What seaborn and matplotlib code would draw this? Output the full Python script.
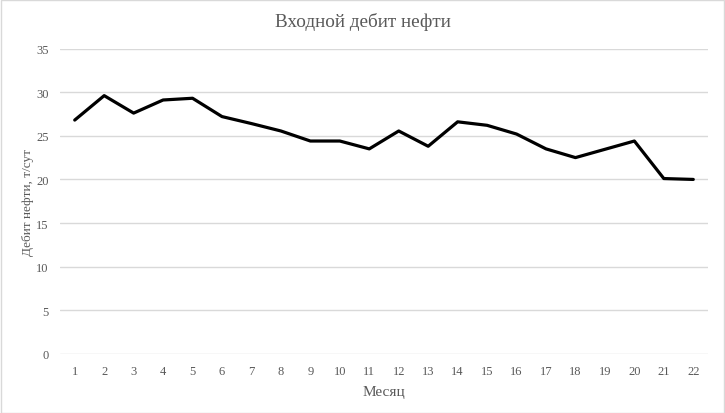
import matplotlib
matplotlib.use("Agg")
import matplotlib.pyplot as plt
import seaborn as sns
import pandas as pd
from matplotlib.patches import Rectangle

# === Data ===
months = list(range(1, 23))
oil_rate = [26.8, 29.6, 27.6, 29.1, 29.3, 27.2, 26.4, 25.55, 24.4, 24.4, 23.5,
            25.55, 23.8, 26.6, 26.2, 25.2, 23.5, 22.5, 23.45, 24.4, 20.1, 20.0]

df = pd.DataFrame({"month": months, "rate": oil_rate})

sns.set_theme(style="white")
plt.rcParams["font.family"] = ["Liberation Serif", "DejaVu Serif"]

fig = plt.figure(figsize=(7.25, 4.14), dpi=100)
ax = fig.add_axes([60 / 725, 1 - 355 / 414, 648 / 725, (355 - 49.5) / 414])

sns.lineplot(data=df, x="month", y="rate", color="black", linewidth=2.3, ax=ax)

ax.set_xlim(0.5, 22.5)
ax.set_ylim(0, 35)
ax.set_xticks(months)
ax.set_yticks(range(0, 36, 5))
ax.grid(axis="y", color="#d9d9d9", linewidth=1)
ax.set_axisbelow(True)
for s in ax.spines.values():
    s.set_visible(False)
ax.tick_params(axis="both", labelsize=9, colors="#595959", length=0, pad=8)

ax.set_xlabel("Месяц", fontsize=11, color="#595959", labelpad=6)
ax.set_ylabel("Дебит нефти, т/сут", fontsize=9.5, color="#595959")
ax.yaxis.set_label_coords(34 / 725, 1 - 203 / 414, transform=fig.transFigure)
fig.suptitle("Входной дебит нефти", y=0.968, fontsize=13.8, color="#595959")

# light frame around the chart
fig.patches.append(Rectangle((0.001, 0.001), 0.997, 0.997, transform=fig.transFigure,
                             fill=False, edgecolor="#d9d9d9", linewidth=1))

fig.savefig("out.png", dpi=100)
